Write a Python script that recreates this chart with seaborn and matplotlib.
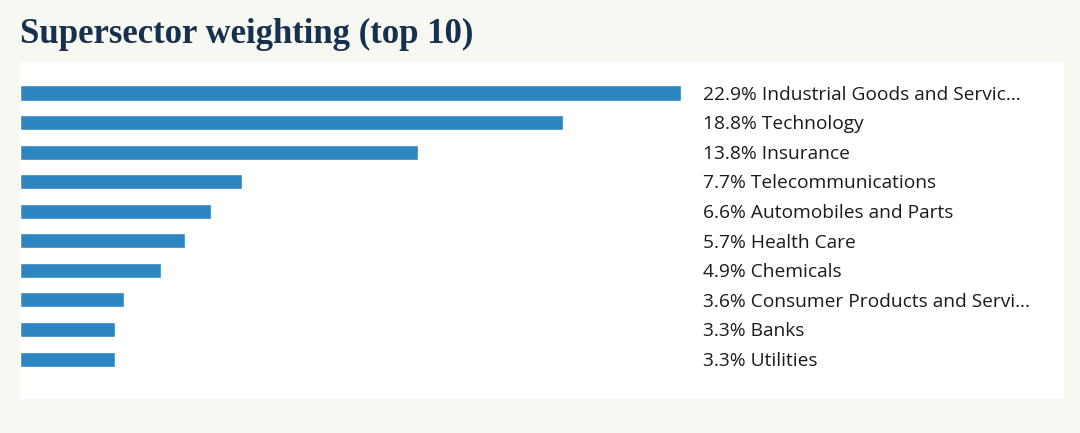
import matplotlib
matplotlib.use("Agg")
import matplotlib.pyplot as plt
import seaborn as sns
import pandas as pd

categories = ["Industrial Goods and Servic…", "Technology", "Insurance", "Telecommunications",
              "Automobiles and Parts", "Health Care", "Chemicals",
              "Consumer Products and Servi…", "Banks", "Utilities"]
values = [22.9, 18.8, 13.8, 7.7, 6.6, 5.7, 4.9, 3.6, 3.3, 3.3]
title = "Supersector weighting (top 10)"

sns.set_theme(style="white")
plt.rcParams['font.family'] = ['Open Sans', 'DejaVu Sans']

W, H = 1080, 433
fig = plt.figure(figsize=(W / 100, H / 100), dpi=100)
fig.patch.set_facecolor("#f8f8f2")

# panel (white) in pixel coords
left, right, top, bottom = 20, 1064, 62, 399
ax = fig.add_axes([left / W, 1 - bottom / H, (right - left) / W, (bottom - top) / H])
ax.set_facecolor("white")

df = pd.DataFrame({"cat": categories, "val": values})
sns.barplot(data=df, y="cat", x="val", orient="h", color="#2e86c1", saturation=1,
            width=0.51, ax=ax)

px_per_unit = (681 - 20) / 22.9
ax.set_xlim(0, (right - left) / px_per_unit)
step = 29.6
ax.set_ylim(9 + 40 / step, -31 / step)

label_x = (703 - 20) / px_per_unit
for i, (c, v) in enumerate(zip(categories, values)):
    ax.text(label_x, i + 0.06, f"{v}% {c}", va="center", ha="left", fontsize=13.8,
            color="#1a1a1a")

for s in ax.spines.values():
    s.set_visible(False)
ax.set_xticks([])
ax.set_yticks([])
ax.set_xlabel("")
ax.set_ylabel("")

fig.text(20 / W, 1 - 43 / H, title, fontsize=25, fontweight="bold",
         family=["Liberation Serif", "DejaVu Serif"], color="#16304f",
         ha="left", va="baseline")

fig.savefig("out.png", dpi=100, facecolor=fig.get_facecolor())
